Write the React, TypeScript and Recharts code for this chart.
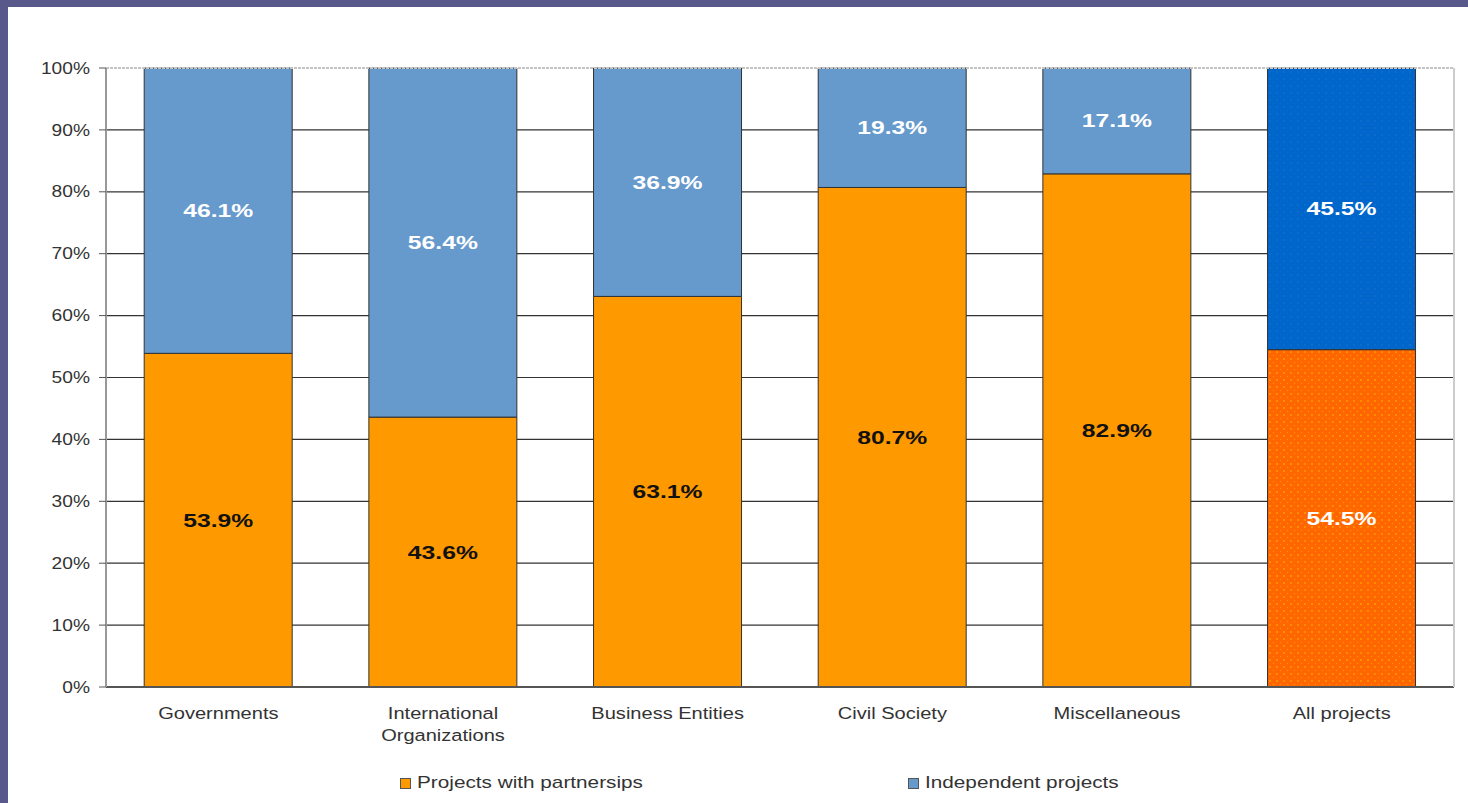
import { BarChart, Bar, XAxis, YAxis, CartesianGrid, Legend, Cell, LabelList, ReferenceLine } from "recharts";

// Valores (percentual de projetos)
const categories = [
  "Governments",
  "International Organizations",
  "Business Entities",
  "Civil Society",
  "Miscellaneous",
  "All projects",
];
const withPartnerships = [53.9, 43.6, 63.1, 80.7, 82.9, 54.5];
const independentProjects = [46.1, 56.4, 36.9, 19.3, 17.1, 45.5];
const yTicks = [0, 10, 20, 30, 40, 50, 60, 70, 80, 90, 100];
const seriesNames = ["Projects with partnersips", "Independent projects"];

const FONT = "'Liberation Sans', Arial, sans-serif";
const ORANGE = "#FF9900";
const BLUE = "#6699CC";
const TOTAL_INDEX = categories.length - 1;

const data = categories.map((name, i) => ({
  name,
  partner: withPartnerships[i],
  independent: independentProjects[i],
}));

function XTick(props: any) {
  const { x, y, payload } = props;
  const text: string = payload.value;
  const lines = text.length > 20 ? text.split(" ") : [text];
  return (
    <g>
      {lines.map((line, i) => (
        <text
          key={i}
          transform={`translate(${x},${y + 24 + i * 22}) scale(1.18,1)`}
          textAnchor="middle"
          fontSize={17}
          fontFamily={FONT}
          fill="#333"
        >
          {line}
        </text>
      ))}
    </g>
  );
}

function YTick(props: any) {
  const { x, y, payload } = props;
  return (
    <text
      transform={`translate(${x},${y}) scale(1.13,1)`}
      textAnchor="end"
      dominantBaseline="central"
      fontSize={17}
      fontFamily={FONT}
      fill="#333"
    >
      {payload.value}%
    </text>
  );
}

const makeLabel = (series: "partner" | "independent") => (props: any) => {
  const { x, y, width, height, value, index } = props;
  const fill = series === "partner" && index !== TOTAL_INDEX ? "#111" : "#fff";
  const cx = Number(x) + Number(width) / 2;
  const cy = Number(y) + Number(height) / 2;
  return (
    <text
      transform={`translate(${cx},${cy}) scale(1.3,1)`}
      textAnchor="middle"
      dominantBaseline="central"
      fontSize={19}
      fontWeight="bold"
      fontFamily={FONT}
      fill={fill}
    >
      {Number(value).toFixed(1)}%
    </text>
  );
};

function LegendBox() {
  const colors = [ORANGE, BLUE];
  const lefts = [392, 900];
  return (
    <div style={{ position: "relative", height: 40, fontFamily: FONT }}>
      {seriesNames.map((name, i) => (
        <div
          key={name}
          style={{ position: "absolute", left: lefts[i], top: 10, display: "flex", alignItems: "center" }}
        >
          <span
            style={{
              width: 9,
              height: 9,
              background: colors[i],
              border: "1px solid #555",
              display: "inline-block",
              marginRight: 6,
            }}
          />
          <span
            style={{
              fontSize: 17,
              color: "#333",
              display: "inline-block",
              transform: "scaleX(1.22)",
              transformOrigin: "left center",
              whiteSpace: "nowrap",
            }}
          >
            {name}
          </span>
        </div>
      ))}
    </div>
  );
}

export default function App() {
  return (
    <div style={{ position: "fixed", left: 0, top: 0, width: 1468, height: 803, background: "#58588a" }}>
      <div style={{ position: "absolute", left: 8, top: 7, width: 1460, height: 796, background: "#fff" }}>
        <BarChart
          width={1460}
          height={796}
          data={data}
          margin={{ top: 61, right: 0, left: 0, bottom: 0 }}
          barCategoryGap="17%"
        >
          <defs>
            <pattern id="dotsOrange" width="7" height="7" patternUnits="userSpaceOnUse">
              <rect width="7" height="7" fill="#FF6600" />
              <circle cx="2" cy="2" r="0.9" fill="#FFA000" />
              <circle cx="5.5" cy="5.5" r="0.7" fill="#FF9000" />
            </pattern>
            <pattern id="dotsBlue" width="7" height="7" patternUnits="userSpaceOnUse">
              <rect width="7" height="7" fill="#0066CC" />
              <circle cx="2" cy="2" r="0.8" fill="#1478C8" />
              <circle cx="5.5" cy="5.5" r="0.6" fill="#0A70C0" />
            </pattern>
          </defs>
          <CartesianGrid
            vertical={false}
            stroke="#333"
            strokeWidth={1.2}
            horizontalValues={[10, 20, 30, 40, 50, 60, 70, 80, 90]}
            yAxisId="left"
          />
          <XAxis
            dataKey="name"
            height={76}
            tickLine={false}
            axisLine={{ stroke: "#555", strokeWidth: 2 }}
            tick={<XTick />}
            interval={0}
          />
          <YAxis
            yAxisId="left"
            width={98}
            domain={[0, 100]}
            ticks={yTicks}
            tickSize={7}
            tickMargin={9}
            tickLine={{ stroke: "#555" }}
            axisLine={{ stroke: "#999", strokeWidth: 2 }}
            tick={<YTick />}
            interval={0}
          />
          <YAxis
            yAxisId="right"
            orientation="right"
            width={14}
            domain={[0, 100]}
            tick={false}
            tickLine={false}
            axisLine={{ stroke: "#ccc", strokeWidth: 2 }}
          />
          <ReferenceLine yAxisId="left" y={100} stroke="#c4c4c4" strokeWidth={2} strokeDasharray="3 1" />
          <Bar
            yAxisId="left"
            dataKey="partner"
            name={seriesNames[0]}
            stackId="a"
            fill={ORANGE}
            stroke="#333"
            strokeWidth={1}
            isAnimationActive={false}
          >
            {data.map((_, i) => (
              <Cell key={i} fill={i === TOTAL_INDEX ? "url(#dotsOrange)" : ORANGE} />
            ))}
            <LabelList dataKey="partner" content={makeLabel("partner")} />
          </Bar>
          <Bar
            yAxisId="left"
            dataKey="independent"
            name={seriesNames[1]}
            stackId="a"
            fill={BLUE}
            stroke="#333"
            strokeWidth={1}
            isAnimationActive={false}
          >
            {data.map((_, i) => (
              <Cell key={i} fill={i === TOTAL_INDEX ? "url(#dotsBlue)" : BLUE} />
            ))}
            <LabelList dataKey="independent" content={makeLabel("independent")} />
          </Bar>
          <Legend verticalAlign="bottom" content={<LegendBox />} wrapperStyle={{ left: 0, width: 1460, height: 40 }} />
        </BarChart>
      </div>
    </div>
  );
}
